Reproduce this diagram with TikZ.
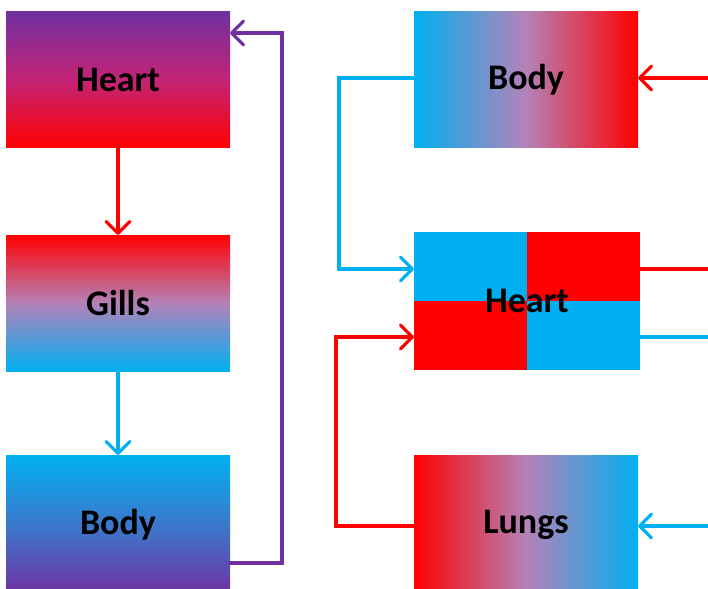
\documentclass[tikz,border=0pt]{standalone}
\usepackage{fontspec}
\setmainfont{Carlito}
\usetikzlibrary{arrows.meta}
\definecolor{cy}{HTML}{00B0F0}
\definecolor{rd}{HTML}{FF0000}
\definecolor{pu}{HTML}{7030A0}
\definecolor{rcmid}{HTML}{B482B8}
\definecolor{prmid}{HTML}{C42476}
\definecolor{cpmid}{HTML}{3C78CC}
\tikzset{
  box/.style={inner sep=0pt, outer sep=0pt, minimum width=224pt, minimum height=136pt,
    font=\fontsize{36}{40}\selectfont\bfseries, text=black},
  conn/.style={line width=3.2pt, line cap=round, line join=miter},
  tip/.style={-{Straight Barb[length=12pt,width=24pt,line width=3.2pt,round]}},
}
\begin{document}
\begin{tikzpicture}[x=1pt,y=-1pt]
\useasboundingbox (0,0) rectangle (708,588);
\clip (0,0) rectangle (708,588);
% left column
\node[box, top color=pu, bottom color=rd, middle color=prmid] (hL) at (118,80) {Heart};
\node[box, top color=rd, bottom color=cy, middle color=rcmid] (gL) at (118,303) {Gills};
\node[box, top color=cy, bottom color=pu, middle color=cpmid, minimum height=140pt] (bL) at (118,525) {Body};
% right column
\node[box, left color=cy, right color=rd, middle color=rcmid] (bR) at (526,80) {Body};
\node[box, minimum width=226pt, minimum height=138pt,
  path picture={
    \fill[cy] (path picture bounding box.north west) rectangle (path picture bounding box.center);
    \fill[rd] (path picture bounding box.north east) rectangle (path picture bounding box.center);
    \fill[rd] (path picture bounding box.south west) rectangle (path picture bounding box.center);
    \fill[cy] (path picture bounding box.south east) rectangle (path picture bounding box.center);
  }] (hR) at (527,301) {Heart};
\node[box, left color=rd, right color=cy, middle color=rcmid, minimum height=140pt] (lR) at (526,525) {Lungs};
% coordinates
\coordinate (pA) at (282,563);
\coordinate (pB) at (282,33);
\coordinate (cA) at (339,78);
\coordinate (cB) at (339,269);
\coordinate (rA) at (336,526);
\coordinate (rB) at (336,337);
\coordinate (eR1) at (712,269);
\coordinate (eC1) at (712,337);
\coordinate (iR) at (712,78);
\coordinate (iC) at (712,526);
% left connectors
\draw[conn, tip, rd] (hL.south) -- (gL.north);
\draw[conn, tip, cy] (gL.south) -- (bL.north);
\draw[conn, tip, pu] (bL.east |- pA) -- (pA) -- (pB) -- (hL.east |- pB);
% right connectors
\draw[conn, tip, cy] (bR.west |- cA) -- (cA) -- (cB) -- (hR.west |- cB);
\draw[conn, tip, rd] (lR.west |- rA) -- (rA) -- (rB) -- (hR.west |- rB);
\draw[conn, rd] (hR.east |- eR1) -- (eR1);
\draw[conn, cy] (hR.east |- eC1) -- (eC1);
\draw[conn, tip, rd] (iR) -- (bR.east |- iR);
\draw[conn, tip, cy] (iC) -- (lR.east |- iC);
\end{tikzpicture}
\end{document}
